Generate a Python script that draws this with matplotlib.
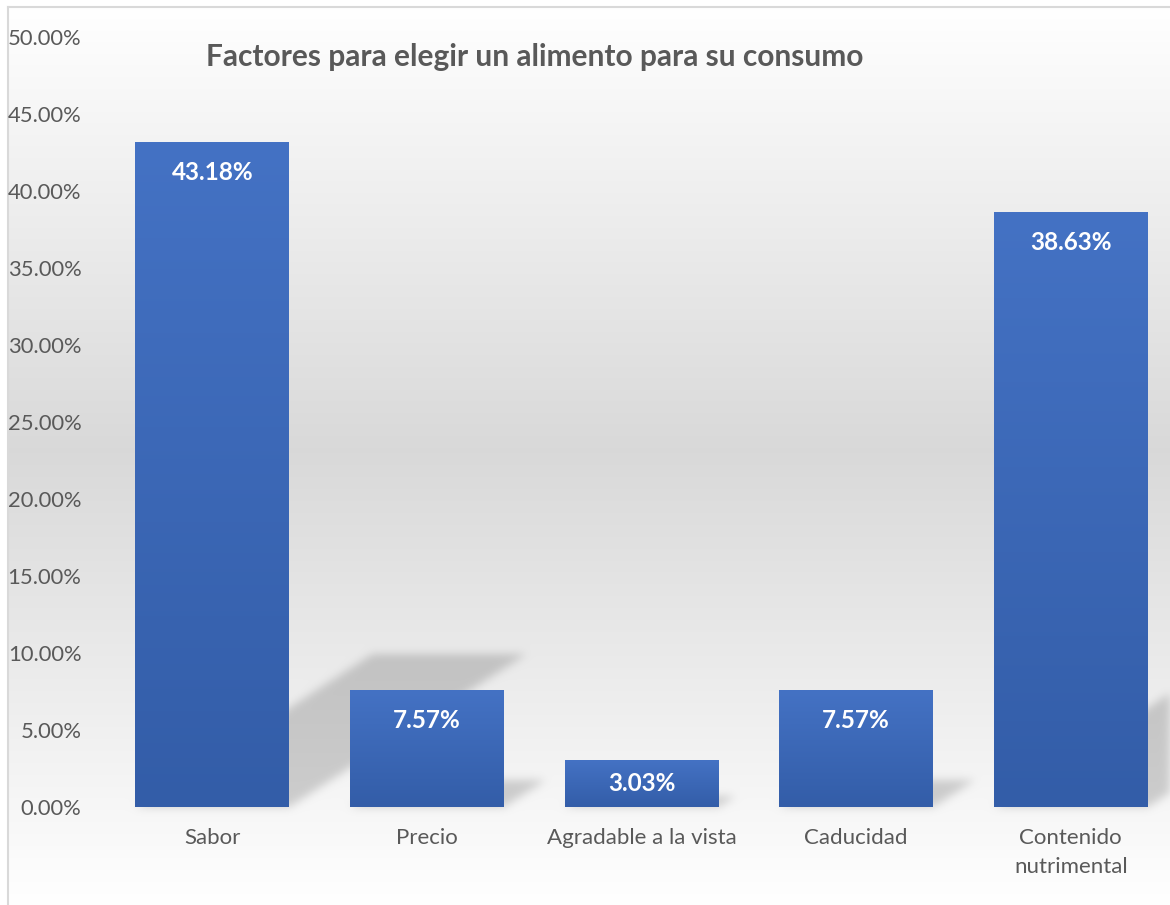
import numpy as np
import matplotlib
matplotlib.use("Agg")
import matplotlib.pyplot as plt
from matplotlib.path import Path
from matplotlib.lines import Line2D
from matplotlib.colors import to_rgb
from matplotlib.ticker import PercentFormatter

# Datos de la encuesta
categorias = ["Sabor", "Precio", "Agradable a la vista", "Caducidad", "Contenido\nnutrimental"]
porcentajes = [43.18, 7.57, 3.03, 7.57, 38.63]
ticks_y = [0, 5, 10, 15, 20, 25, 30, 35, 40, 45, 50]

titulo = "Factores para elegir un alimento para su consumo"
gris_texto = "#595959"
azul_arriba = "#4472C4"
azul_abajo = "#335DA8"

W, H, DPI = 1170, 905, 100
plt.rcParams["font.family"] = ["Lato", "DejaVu Sans"]

fig = plt.figure(figsize=(W / DPI, H / DPI), dpi=DPI)
fig.patch.set_facecolor("white")

ax = fig.add_axes([105 / W, 98 / H, 1073 / W, 770 / H])
ax.set_zorder(2)
ax.patch.set_alpha(0)

x = np.arange(len(categorias))
barras = ax.bar(x, porcentajes, width=0.717, color="none", edgecolor="none", zorder=3)
ax.set_xlim(-0.5, len(categorias) - 0.5)
ax.set_ylim(ticks_y[0], ticks_y[-1])

# relleno degradado de cada barra
grad = np.linspace(0, 1, 256).reshape(-1, 1, 1)
c_top = np.array(to_rgb(azul_arriba))
c_bot = np.array(to_rgb(azul_abajo))
img_barra = c_top + (c_bot - c_top) * grad
for b in barras:
    ax.imshow(img_barra, extent=[b.get_x(), b.get_x() + b.get_width(), 0, b.get_height()],
              origin="upper", aspect="auto", zorder=3, interpolation="bilinear")
ax.set_xlim(-0.5, len(categorias) - 0.5)
ax.set_ylim(ticks_y[0], ticks_y[-1])

# etiquetas de valor (dentro del extremo de la barra)
for xi, v in zip(x, porcentajes):
    ypos = max(v - 1.95, v / 2)
    ax.text(xi, ypos, f"{v:.2f}%", ha="center", va="center", color="white",
            fontsize=17.5, fontweight="bold", zorder=4)

ax.set_yticks(ticks_y)
ax.yaxis.set_major_formatter(PercentFormatter(decimals=2))
ax.set_xticks(x)
ax.set_xticklabels(categorias)
for lbl in ax.get_xticklabels():
    lbl.set_linespacing(1.55)
ax.tick_params(axis="y", length=0, pad=17, labelsize=15.8, labelcolor=gris_texto)
ax.tick_params(axis="x", length=0, pad=15, labelsize=16, labelcolor=gris_texto)
for s in ax.spines.values():
    s.set_visible(False)

# sombras en perspectiva de las barras
yy, xx = np.mgrid[0:H, 0:W]
pts = np.column_stack([xx.ravel() + 0.5, H - yy.ravel() - 0.5])
mascara = np.zeros(H * W)
for b in barras:
    (x0, y0), (x1, y1) = ax.transData.transform(
        [(b.get_x(), 0), (b.get_x() + b.get_width(), b.get_height())])
    alto = 0.23 * (y1 - y0)
    dx = 1.55 * alto
    poly = Path([(x0, y0), (x1, y0), (x1 + dx, y0 + alto), (x0 + dx, y0 + alto), (x0, y0)])
    mascara = np.maximum(mascara, poly.contains_points(pts))
mascara = mascara.reshape(H, W)


def desenfocar(a, sigma):
    r = int(3 * sigma)
    k = np.exp(-0.5 * (np.arange(-r, r + 1) / sigma) ** 2)
    k /= k.sum()
    a = np.apply_along_axis(lambda v: np.convolve(v, k, mode="same"), 0, a)
    a = np.apply_along_axis(lambda v: np.convolve(v, k, mode="same"), 1, a)
    return a


sombra = desenfocar(mascara, 4.5)

# fondo con degradado gris
filas = np.arange(H)
tono = np.interp(filas, [7, 450, H], [1.0, 0.85, 1.0])
fondo = np.repeat(tono[:, None], W, axis=1)
fondo = fondo * (1 - 0.17 * sombra)
fondo[:7, :] = 1.0
fondo[:, :7] = 1.0
fondo_rgb = np.dstack([fondo, fondo, fondo])
fig.figimage(fondo_rgb, xo=0, yo=0, origin="upper", zorder=0)

# marco del área del gráfico
fig.add_artist(Line2D([7.5 / W, 7.5 / W], [0, 1 - 7.5 / H], transform=fig.transFigure,
                      color="#d9d9d9", lw=1.5))
fig.add_artist(Line2D([7.5 / W, 1], [1 - 7.5 / H, 1 - 7.5 / H], transform=fig.transFigure,
                      color="#d9d9d9", lw=1.5))

fig.text(535 / W, 1 - 57 / H, titulo, ha="center", va="center", fontsize=21.5,
         fontweight="bold", color=gris_texto)

fig.savefig("out.png", dpi=DPI)
